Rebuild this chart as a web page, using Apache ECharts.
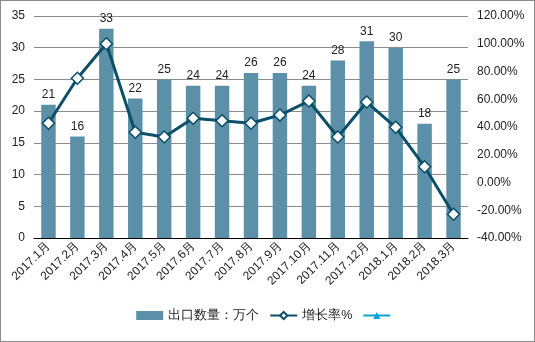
<!DOCTYPE html>
<html><head><meta charset="utf-8">
<script src="https://cdn.jsdelivr.net/npm/echarts@6/dist/echarts.min.js"></script>
<style>
html,body{margin:0;padding:0;background:#fff;}
#c{position:absolute;left:0;top:0;width:533px;height:340px;border:1px solid #8c8c8c;}
</style></head>
<body><div id="c"></div>
<script>
const categories = ['2017.1月','2017.2月','2017.3月','2017.4月','2017.5月','2017.6月','2017.7月','2017.8月','2017.9月','2017.10月','2017.11月','2017.12月','2018.1月','2018.2月','2018.3月'];
const exportQty = [21,16,33,22,25,24,24,26,26,24,28,31,30,18,25];
const growthRate = [42.7,75.1,100,36.2,32.8,46.3,44.5,42.7,48.6,58.7,32.8,58,39.8,11.4,-22.9];
const extraSeries = [];
const fontFam = '"Liberation Sans", Arial, sans-serif';
const chart = echarts.init(document.getElementById('c'));
chart.setOption({
  animation:false,
  textStyle:{fontFamily:fontFam},
  grid:{left:33,right:66,top:15,bottom:103},
  legend:{
    bottom:14, left:'center', itemGap:10, itemWidth:27, itemHeight:9,
    textStyle:{fontFamily:fontFam,fontSize:12.5,color:'#222'},
    data:[
      {name:'出口数量：万个', icon:'rect'},
      {name:'增长率%'},
      {name:' '}
    ]
  },
  xAxis:{
    type:'category', data:categories,
    axisLine:{lineStyle:{color:'#000',width:1}},
    axisTick:{show:false},
    axisLabel:{rotate:45,fontSize:12,color:'#222',margin:6,interval:0,fontFamily:fontFam}
  },
  yAxis:[
    {type:'value',min:0,max:35,interval:5,
     axisLine:{show:false},axisTick:{show:false},
     splitLine:{lineStyle:{color:'#8c8c8c',width:1}},
     axisLabel:{fontSize:12,color:'#222',margin:9,fontFamily:fontFam}},
    {type:'value',min:-40,max:120,interval:20,position:'right',
     axisLine:{show:false},axisTick:{show:false},splitLine:{show:false},
     axisLabel:{fontSize:12,color:'#222',margin:9,fontFamily:fontFam,formatter:v=>v.toFixed(2)+'%'}}
  ],
  series:[
    {name:'出口数量：万个',type:'bar',data:exportQty,barWidth:'50%',
     itemStyle:{color:'#5b90a8'},
     label:{show:true,position:'top',fontSize:12,color:'#222',distance:4,fontFamily:fontFam}},
    {name:'增长率%',type:'line',yAxisIndex:1,data:growthRate,
     lineStyle:{color:'#0b4f68',width:3},
     itemStyle:{color:'#fff',borderColor:'#0b4f68',borderWidth:1.5},
     symbol:'diamond',symbolSize:12,z:5},
    {name:' ',type:'line',yAxisIndex:1,data:extraSeries,
     lineStyle:{color:'#0aa3d9',width:3},
     itemStyle:{color:'#0aa3d9'},symbol:'triangle',symbolSize:9}
  ]
});
</script></body></html>
